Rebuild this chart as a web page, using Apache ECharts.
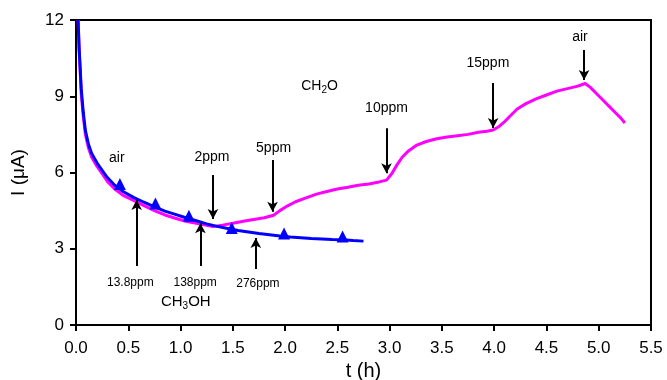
<!DOCTYPE html>
<html>
<head>
<meta charset="utf-8">
<script src="https://cdn.jsdelivr.net/npm/echarts@6/dist/echarts.min.js"></script>
<style>html,body{margin:0;padding:0;background:#fff}#c{width:667px;height:380px}</style>
</head>
<body>
<div id="c"></div>
<script>
// CH2O response (magenta): [t (h), I (uA)]
var ch2oData = [[0.02,12],[0.03,10.8],[0.04,10.0],[0.05,9.1],[0.07,8.2],[0.09,7.5],[0.12,6.95],[0.15,6.6],[0.2,6.25],[0.25,5.95],[0.3,5.65],[0.37,5.35],[0.45,5.1],[0.55,4.9],[0.65,4.7],[0.75,4.5],[0.85,4.33],[0.95,4.2],[1.05,4.08],[1.15,4.0],[1.25,3.92],[1.31,3.87],[1.4,3.93],[1.5,4.0],[1.6,4.08],[1.7,4.15],[1.8,4.22],[1.89,4.32],[1.95,4.5],[2.02,4.68],[2.1,4.85],[2.2,5.0],[2.3,5.15],[2.4,5.25],[2.5,5.35],[2.6,5.42],[2.7,5.5],[2.8,5.55],[2.9,5.63],[2.97,5.7],[3.02,5.95],[3.07,6.3],[3.12,6.6],[3.18,6.85],[3.26,7.08],[3.35,7.22],[3.45,7.33],[3.55,7.4],[3.65,7.45],[3.75,7.5],[3.85,7.58],[3.93,7.62],[3.99,7.67],[4.05,7.82],[4.1,8.0],[4.16,8.25],[4.22,8.5],[4.3,8.7],[4.4,8.9],[4.5,9.05],[4.6,9.2],[4.7,9.3],[4.8,9.4],[4.87,9.5],[4.92,9.35],[4.98,9.1],[5.04,8.85],[5.1,8.6],[5.16,8.35],[5.21,8.15],[5.25,7.95]];
// CH3OH response (blue)
var ch3ohData = [[0.02,12],[0.03,10.9],[0.04,10.1],[0.05,9.3],[0.07,8.35],[0.09,7.65],[0.12,7.1],[0.15,6.75],[0.2,6.38],[0.25,6.08],[0.3,5.8],[0.37,5.5],[0.45,5.25],[0.55,5.02],[0.65,4.83],[0.75,4.65],[0.85,4.48],[0.95,4.35],[1.05,4.22],[1.15,4.1],[1.25,3.98],[1.35,3.88],[1.45,3.8],[1.55,3.72],[1.65,3.66],[1.75,3.6],[1.85,3.55],[1.95,3.5],[2.05,3.46],[2.15,3.43],[2.25,3.4],[2.35,3.38],[2.45,3.36],[2.55,3.35],[2.65,3.32],[2.75,3.3]];
// blue triangle markers
var ch3ohMarkers = [[0.42,5.55],[0.76,4.78],[1.08,4.3],[1.49,3.82],[1.99,3.6],[2.55,3.48]];
// tick labels
var xTicks = [0,0.5,1,1.5,2,2.5,3,3.5,4,4.5,5,5.5];
var yTicks = [0,3,6,9,12];
// annotation arrows
var arrowX = [1.31, 1.88, 2.97, 3.99, 4.86, 0.58, 1.19, 1.72];
var arrowFrom = [5.9, 6.49, 7.74, 9.52, 10.82, 2.32, 2.32, 2.2];
var arrowTo = [4.17, 4.46, 5.97, 7.75, 9.64, 4.92, 4.0, 3.42];
// annotation texts
var noteText = ['air','2ppm','5ppm','{n|CH}{s|2}{n|O}','10ppm','15ppm','air','{m|13.8ppm}','{m|138ppm}','{m|276ppm}','{b|CH}{s|3}{b|OH}'];
var noteX = [0.39, 1.30, 1.89, 2.33, 2.97, 3.94, 4.82, 0.52, 1.14, 1.74, 1.05];
var noteY = [6.57, 6.61, 6.96, 9.48, 8.52, 10.3, 11.34, 1.66, 1.66, 1.62, 0.98];

var FONT = 'Liberation Sans, Arial, sans-serif';
var arrows = arrowX.map(function(x,i){
  return [{coord:[x, arrowFrom[i]]},{coord:[x, arrowTo[i]]}];
});
var notes = noteText.map(function(t,i){ return {value:[noteX[i], noteY[i]], name:t}; });
var txt = {color:'#000', fontFamily:FONT, textBorderWidth:0, textBorderColor:'transparent', textShadowBlur:0, opacity:1};
function ts(o){ var r={}; for(var k in txt) r[k]=txt[k]; for(var k2 in o) r[k2]=o[k2]; return r; }

var chart = echarts.init(document.getElementById('c'));
chart.setOption({
  animation:false,
  grid:{left:76, top:20, right:16, bottom:55, show:true, borderColor:'#000', borderWidth:2,
    backgroundColor:'transparent', containLabel:false, outerBoundsMode:'none'},
  xAxis:{type:'value', min:0, max:5.5, interval:0.5,
    name:'t (h)', nameLocation:'middle', nameGap:34,
    nameTextStyle:{fontFamily:FONT, fontSize:20, color:'#000'},
    axisLine:{show:true, lineStyle:{color:'#000', width:2}},
    axisTick:{show:true, inside:false, length:6, lineStyle:{color:'#000', width:2}},
    axisLabel:{fontFamily:FONT, fontSize:17, color:'#000', margin:15,
      formatter:function(v){ return xTicks.indexOf(v)>=0 ? v.toFixed(1) : ''; }},
    splitLine:{show:false}},
  yAxis:{type:'value', min:0, max:12, interval:3,
    name:'I (\u03bcA)', nameLocation:'middle', nameGap:48, nameRotate:90,
    nameTextStyle:{fontFamily:FONT, fontSize:19, color:'#000'},
    axisLine:{show:true, lineStyle:{color:'#000', width:2}},
    axisTick:{show:true, inside:false, length:6, lineStyle:{color:'#000', width:2}},
    axisLabel:{fontFamily:FONT, fontSize:17, color:'#000', margin:12,
      formatter:function(v){ return yTicks.indexOf(v)>=0 ? String(v) : ''; }},
    splitLine:{show:false}},
  series:[
    {type:'line', data:ch2oData, showSymbol:false, smooth:false, z:2,
      lineStyle:{color:'#ff00ff', width:3}},
    {type:'line', data:ch3ohData, showSymbol:false, smooth:false, z:3,
      lineStyle:{color:'#0000ff', width:3}},
    {type:'scatter', data:ch3ohMarkers, symbol:'triangle', symbolSize:[12,12], z:4,
      itemStyle:{color:'#0000ff', opacity:1}},
    {type:'scatter', data:notes, symbolSize:0, z:6, silent:true,
      itemStyle:{color:'#000', opacity:1},
      label:ts({show:true, position:'inside', fontSize:14,
        formatter:function(p){ return p.name; },
        rich:{
          n:ts({fontSize:14, lineHeight:18, verticalAlign:'bottom'}),
          b:ts({fontSize:15, lineHeight:18, verticalAlign:'bottom'}),
          s:ts({fontSize:10, lineHeight:18, verticalAlign:'bottom', padding:[0,0,-2,0]}),
          m:ts({fontSize:12})
        }}),
      markLine:{silent:true, symbol:['none','arrow'], symbolSize:[8,10], animation:false,
        label:{show:false},
        lineStyle:{color:'#000', width:2, type:'solid', opacity:1},
        data:arrows}}
  ]
});
</script>
</body>
</html>
